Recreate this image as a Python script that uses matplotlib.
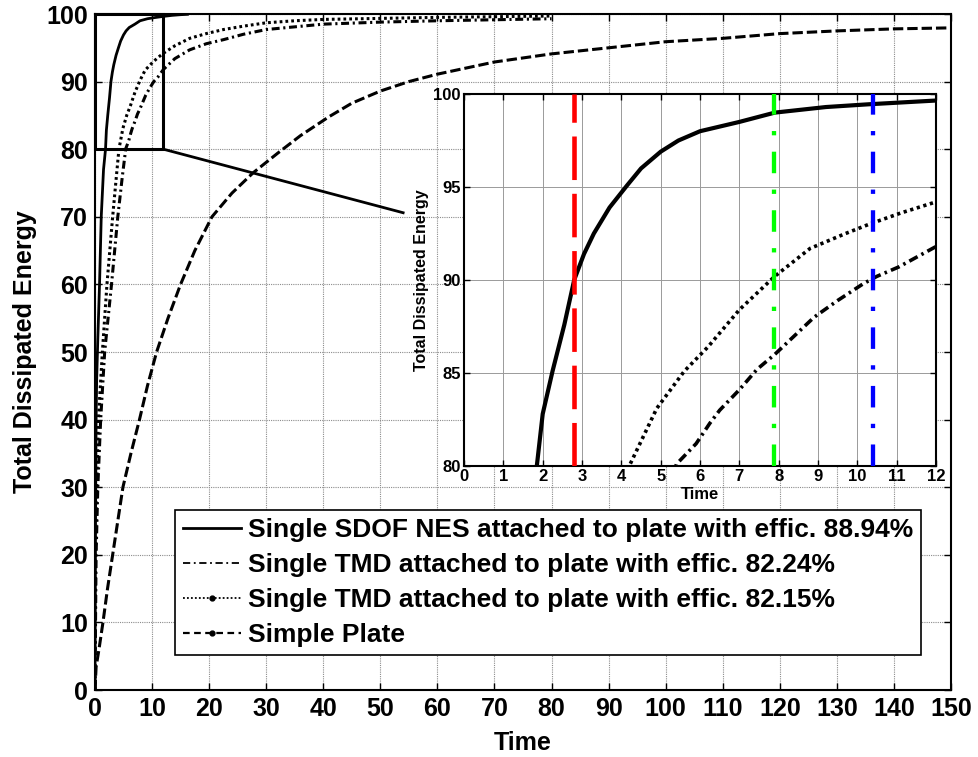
import matplotlib
matplotlib.use("Agg")
import matplotlib.pyplot as plt
from matplotlib.lines import Line2D
from matplotlib.patches import Rectangle

plt.rcParams['font.family'] = ['Liberation Sans', 'DejaVu Sans']
plt.rcParams['font.weight'] = 'bold'
plt.rcParams['axes.labelweight'] = 'bold'

# ---------------- data ----------------
nes_t = [0, 0.05, 0.1, 0.2, 0.3, 0.5, 0.8, 1.1, 1.5, 1.85, 2.0, 2.25, 2.55, 2.8, 3.05, 3.3,
         3.7, 4.15, 4.5, 5.0, 5.45, 6.0, 7.0, 7.9, 9.2, 10.3, 12.0, 13.5, 15.0, 16.2]
nes_e = [0, 12, 25, 40, 46, 52, 60, 70, 77, 80, 82.8, 85.1, 87.6, 90.0, 91.4, 92.5,
         93.9, 95.1, 96.0, 96.9, 97.5, 98.0, 98.5, 99.0, 99.3, 99.45, 99.65, 99.8, 99.9, 99.95]

tmd15_t = [0, 0.1, 0.3, 0.6, 1.3, 2.1, 3.1, 3.7, 4.2, 4.9, 5.6, 6.2, 7.0, 7.9, 8.8, 9.7,
           10.3, 11.1, 12.0, 14, 16.6, 19.5, 22.5, 26, 30, 35, 40, 50, 60, 70, 80]
tmd15_e = [0, 20, 30, 40, 50, 60, 70, 75.5, 80, 83.1, 85.1, 86.4, 88.4, 90.2, 91.7, 92.5,
           93.0, 93.6, 94.2, 95.3, 96.4, 97.1, 97.7, 98.2, 98.7, 99.0, 99.2, 99.35, 99.5, 99.6, 99.7]

tmd24_t = [0, 0.2, 0.5, 1.0, 1.7, 2.9, 4.0, 4.8, 5.4, 5.9, 6.25, 6.5, 7.0, 7.45, 7.9, 8.35,
           8.9, 9.5, 10.15, 10.5, 11.05, 12.0, 14, 16.6, 19.5, 22.5, 26, 30, 35, 40, 50, 60, 70, 80]
tmd24_e = [0, 20, 30, 40, 50, 60, 70, 76, 80.1, 81.2, 82.3, 83.0, 84.1, 85.2, 86.0, 86.9,
           88.0, 88.9, 89.8, 90.2, 90.7, 91.8, 93.4, 94.7, 95.6, 96.2, 97.0, 97.7, 98.1, 98.5,
           98.8, 99.0, 99.15, 99.3]

plate_t = [0, 0.2, 0.7, 1.4, 2.2, 3.1, 4.9, 6.3, 7.8, 9.2, 10.8, 12.8, 15.0, 17.5, 20.5, 24,
           27.7, 32, 36, 41, 45, 50, 55, 60, 65, 70, 80, 90, 100, 110, 120, 130, 140, 150]
plate_e = [0, 3.4, 6, 10, 15, 20, 30, 35, 40, 45, 50, 55, 60, 65, 70, 73.5,
           76.5, 79.4, 82.0, 84.8, 86.8, 88.6, 90.0, 91.1, 92.0, 92.9, 94.1, 95.0, 95.9, 96.4,
           97.1, 97.5, 97.8, 97.95]

labels = ["Single SDOF NES attached to plate with effic. 88.94%",
          "Single TMD attached to plate with effic. 82.24%",
          "Single TMD attached to plate with effic. 82.15%",
          "Simple Plate"]

marker_times = [2.8, 7.87, 10.4]
marker_colors = ['#ff0000', '#00ff00', '#0000ff']

zoom_box = [0, 12, 80, 100]          # x0, x1, y0, y1
connector_end = [54.0, 70.6]

main_xticks = list(range(0, 151, 10))
main_yticks = list(range(0, 101, 10))
inset_xticks = list(range(0, 13, 1))
inset_yticks = [80, 85, 90, 95, 100]

# ---------------- styles ----------------
dashdot = (0, (2.6, 1.2, 0.7, 1.2))
dotted = (0, (0.9, 1.0))
dashed = (0, (3.4, 1.3))
grid_kw = dict(color='#8c8c8c', linestyle=(0, (1, 1)), linewidth=0.8)

fig = plt.figure(figsize=(9.79, 7.57), dpi=100)
ax = fig.add_axes([0.0970, 0.0885, 0.8744, 0.8930])

ax.plot(nes_t, nes_e, color='k', lw=2.0, ls='-')
ax.plot(tmd24_t, tmd24_e, color='k', lw=2.2, ls=dashdot)
ax.plot(tmd15_t, tmd15_e, color='k', lw=2.2, ls=dotted)
ax.plot(plate_t, plate_e, color='k', lw=2.2, ls=dashed)

ax.add_patch(Rectangle((zoom_box[0], zoom_box[2]), zoom_box[1] - zoom_box[0],
                       zoom_box[3] - zoom_box[2], fill=False, ec='k', lw=2.2, zorder=5,
                       clip_on=False))
ax.plot([zoom_box[1], connector_end[0]], [zoom_box[2], connector_end[1]], color='k', lw=2.0,
        zorder=5)

ax.set_xlim(0, 150)
ax.set_ylim(0, 100)
ax.set_xticks(main_xticks)
ax.set_yticks(main_yticks)
ax.grid(True, **grid_kw)
ax.tick_params(direction='in', top=True, right=True, length=5, width=1, labelsize=18, pad=5)
for s in ax.spines.values():
    s.set_linewidth(1.5)
ax.set_xlabel("Time", fontsize=18, labelpad=7)
ax.set_ylabel("Total Dissipated Energy", fontsize=18, labelpad=7)

handles = [Line2D([], [], color='k', lw=2.0, ls='-'),
           Line2D([], [], color='k', lw=1.3, ls=(0, (4, 2, 1, 2))),
           Line2D([], [], color='k', lw=1.3, ls=(0, (1, 1.2)), marker='.', markersize=7),
           Line2D([], [], color='k', lw=1.6, ls=(0, (3, 2)), marker='.', markersize=7)]
leg = ax.legend(handles, labels, loc='lower left', bbox_to_anchor=(0.1788, 0.1347),
                bbox_transform=fig.transFigure, borderaxespad=0,
                prop={'weight': 'bold', 'size': 19}, numpoints=1, handlelength=2.2,
                handletextpad=0.27, labelspacing=0.42, borderpad=0.3, fancybox=False,
                framealpha=1, edgecolor='k')
leg.get_frame().set_linewidth(1.2)

# ---------------- inset ----------------
ai = fig.add_axes([0.4740, 0.3844, 0.4821, 0.4914])
ai.set_facecolor('white')
ai.plot(nes_t, nes_e, color='k', lw=3.0, ls='-')
ai.plot(tmd24_t, tmd24_e, color='k', lw=2.6, ls=dashdot)
ai.plot(tmd15_t, tmd15_e, color='k', lw=2.6, ls=dotted)
ai.plot(plate_t, plate_e, color='k', lw=2.6, ls=dashed)

for xv, c in zip(marker_times, marker_colors):
    if c == '#ff0000':
        ai.axvline(xv, color=c, lw=3.3, ls=(0, (9.5, 3.0)), zorder=6)
    else:
        ai.axvline(xv, color=c, lw=3.1, ls=(0, (5.0, 3.8, 1.0, 3.8)), zorder=6)

ai.set_xlim(0, 12)
ai.set_ylim(80, 100)
ai.set_xticks(inset_xticks)
ai.set_yticks(inset_yticks)
ai.grid(True, color='#9a9a9a', linestyle='-', linewidth=0.7)
ai.tick_params(direction='in', top=True, right=True, length=4, width=1, labelsize=12, pad=2.5)
for s in ai.spines.values():
    s.set_linewidth(1.5)
ai.set_xlabel("Time", fontsize=12, labelpad=2)
ai.set_ylabel("Total Dissipated Energy", fontsize=11.5, labelpad=3)

fig.savefig("out.png", dpi=100)
